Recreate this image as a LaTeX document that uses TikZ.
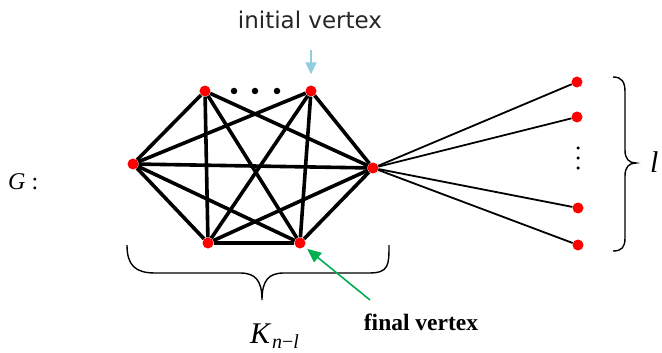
\documentclass[tikz,border=0pt]{standalone}
\usepackage{fontspec}
\setmainfont{Liberation Serif}
\newfontfamily\labelsans{DejaVu Sans}
\usetikzlibrary{arrows.meta}
\definecolor{vred}{RGB}{255,0,0}
\definecolor{arrblue}{RGB}{146,205,221}
\definecolor{arrgreen}{RGB}{0,176,80}
\begin{document}
\begin{tikzpicture}[x=1pt,y=-1pt,
  vtx/.style={circle,fill=vred,inner sep=0pt,minimum size=11pt},
  sdot/.style={circle,fill=black,inner sep=0pt,minimum size=6.5pt},
  tdot/.style={circle,fill=black,inner sep=0pt,minimum size=3.5pt},
  kedge/.style={line width=3.6pt},
  ledge/.style={line width=1.8pt},
  bracepath/.style={line width=1.4pt},
  lbl/.style={inner sep=0pt}
]
\useasboundingbox (0,0) rectangle (662,353);
% complete graph vertices
\node[vtx] (A) at (205,91) {};
\node[vtx] (B) at (311,91) {};
\node[vtx] (L) at (133,164) {};
\node[vtx] (R) at (373,168) {};
\node[vtx] (C) at (208,243) {};
\node[vtx] (D) at (300,243) {};
% dots between A and B
\node[sdot] (d1) at (234,91) {};
\node[sdot] (d2) at (255,91) {};
\node[sdot] (d3) at (277,91) {};
% leaves
\node[vtx] (P1) at (577,82) {};
\node[vtx] (P2) at (577,117) {};
\node[vtx] (P3) at (578,208) {};
\node[vtx] (P4) at (578,245) {};
\node[tdot] (v1) at (578,148) {};
\node[tdot] (v2) at (578,158) {};
\node[tdot] (v3) at (578,168) {};
% edges of K
\foreach \u/\v in {A/L,A/C,A/D,A/R,B/L,B/C,B/D,B/R,L/R,L/C,L/D,R/C,R/D,C/D}
  \draw[kedge] (\u) -- (\v);
\foreach \p in {P1,P2,P3,P4}
  \draw[ledge] (R) -- (\p);
% braces
\draw[bracepath] (127,245) .. controls (127,265) and (135,273) .. (155,273) -- (240,273)
  .. controls (255,273) and (262,280) .. (262,300)
  .. controls (262,280) and (269,273) .. (284,273) -- (369,273)
  .. controls (389,273) and (389,265) .. (389,245);
\draw[bracepath] (613,77) .. controls (622,77) and (625,82) .. (625,92) -- (625,150)
  .. controls (625,159) and (629,163) .. (636,163)
  .. controls (629,163) and (625,167) .. (625,176) -- (625,238)
  .. controls (625,247) and (622,251) .. (613,251);
% labels
\node[lbl,anchor=base,font=\labelsans\fontsize{23}{23}\selectfont,text=black!85] (init) at (310,29) {initial vertex};
\node[lbl,anchor=base,font=\bfseries\fontsize{23.5}{23.5}\selectfont] (fin) at (421,330) {final vertex};
\node[lbl,anchor=base west,font=\fontsize{24}{24}\selectfont] (glab) at (8,189) {\textit{G}\hspace{6pt}:};
\node[lbl,anchor=base west,font=\fontsize{30}{30}\selectfont] (klab) at (250,343) {\textit{K}};
\node[lbl,anchor=base west,font=\fontsize{20}{20}\selectfont] (ksub) at (272,348) {\textit{n}−\textit{l}};
\node[lbl,anchor=base west,font=\fontsize{30}{30}\selectfont] (llab) at (650,172) {\textit{l}};
% arrows
\coordinate (bt) at (311,50);
\draw[arrblue,line width=2pt,shorten >=11pt,-{Triangle[length=12pt,width=11pt]}] (bt) -- (B);
\coordinate (gt) at (370,300);
\draw[arrgreen,line width=1.6pt,shorten >=3.5pt,-{Triangle[length=14pt,width=12pt]}] (gt) -- (D);
\end{tikzpicture}
\end{document}
